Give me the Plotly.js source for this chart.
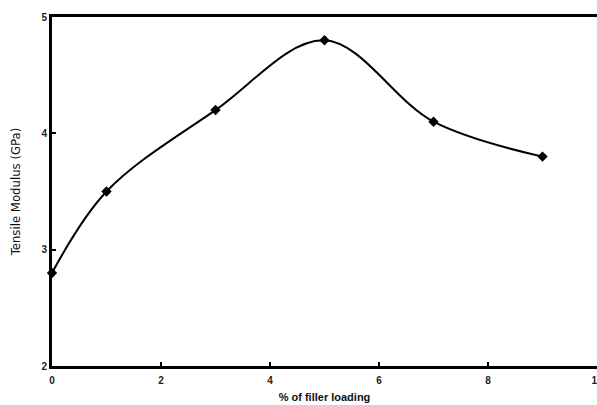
<!DOCTYPE html>
<html><head><meta charset="utf-8">
<script src="https://cdn.plot.ly/plotly-3.0.1.min.js"></script>
<style>html,body{margin:0;padding:0;background:#fff}#chart{width:597px;height:405px}</style>
</head><body><div id="chart"></div>
<script>
const fillerLoading = [0, 1, 3, 5, 7, 9];
const tensileModulus = [2.8, 3.5, 4.2, 4.8, 4.1, 3.8];
const xTickValues = [0, 2, 4, 6, 8, 10];
const yTickValues = [2, 3, 4, 5];

const trace = {
  x: fillerLoading, y: tensileModulus,
  mode: 'lines+markers', type: 'scatter',
  line: {color: '#000', width: 2, shape: 'spline', smoothing: 1},
  marker: {symbol: 'diamond', size: 8, color: '#000'},
  hoverinfo: 'skip', cliponaxis: false
};
const layout = {
  width: 597, height: 405,
  margin: {l: 52, r: 0, t: 17, b: 39},
  paper_bgcolor: '#fff', plot_bgcolor: '#fff',
  showlegend: false,
  xaxis: {
    range: [0, 10], tickvals: xTickValues, ticktext: xTickValues.map(String),
    showgrid: false, zeroline: false,
    showline: true, linecolor: '#000', linewidth: 3, mirror: true,
    ticks: 'inside', ticklen: 4, tickwidth: 2, tickcolor: '#000',
    ticklabeloverflow: 'allow', ticklabelstandoff: 3,
    tickfont: {family: 'Liberation Sans, Arial, sans-serif', size: 10, color: '#222', weight: 'bold'},
    title: {text: '<b>% of filler loading</b>', standoff: 9,
      font: {family: 'Liberation Sans, Arial, sans-serif', size: 11, color: '#111'}}
  },
  yaxis: {
    range: [2, 5], tickvals: yTickValues, ticktext: yTickValues.map(String),
    showgrid: false, zeroline: false,
    showline: true, linecolor: '#000', linewidth: 3, mirror: false,
    ticks: 'inside', ticklen: 4, tickwidth: 2, tickcolor: '#000',
    tickfont: {family: 'Liberation Sans, Arial, sans-serif', size: 10, color: '#222', weight: 'bold'},
    title: {text: 'Tensile Modulus (GPa)', standoff: 18,
      font: {family: 'Liberation Sans Narrow, DejaVu Sans Condensed, Arial Narrow, sans-serif', size: 13, color: '#111'}}
  }
};
Plotly.newPlot('chart', [trace], layout, {staticPlot: true, displayModeBar: false});
</script></body></html>
